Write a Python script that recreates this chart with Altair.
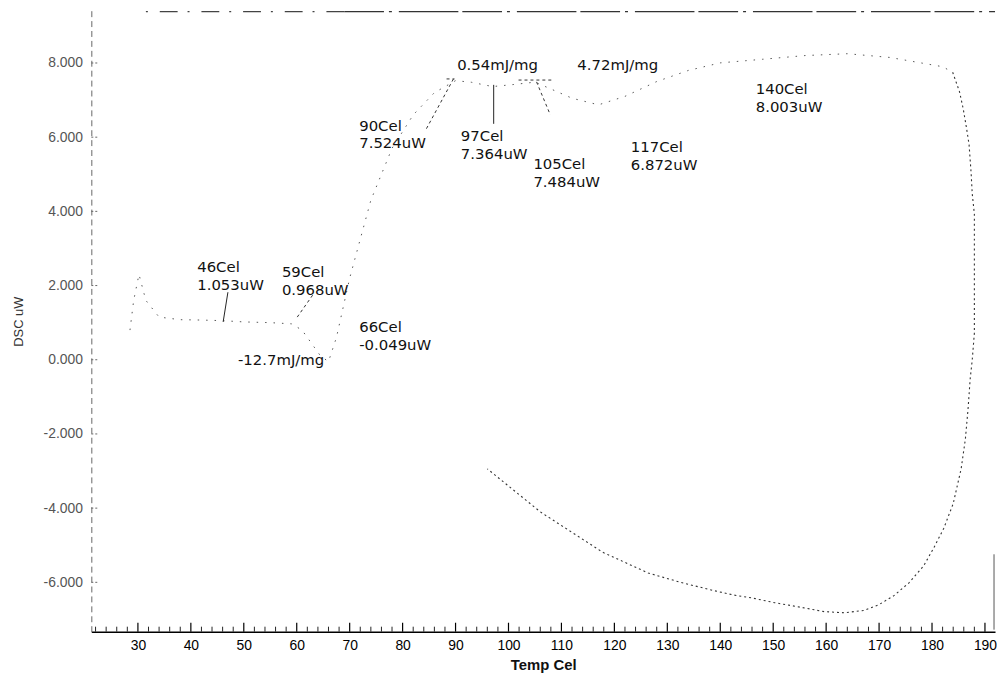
import altair as alt
import pandas as pd

# ---- DSC curve (heating segment) ----
heat_T = [28.5, 29.2, 30.2, 31.5, 34, 38, 42, 46, 50, 55, 59, 61, 63, 64.5, 66, 67.5, 70, 74, 78, 82, 86,
          90, 93, 97, 101, 105, 108, 112, 117, 122, 128, 134, 140, 148, 156, 164, 172, 178, 182, 183.9]
heat_U = [0.8, 1.6, 2.3, 1.6, 1.15, 1.08, 1.07, 1.053, 1.02, 1.0, 0.968, 0.8, 0.4, 0.1, -0.049, 0.6, 2.2, 4.3,
          5.7, 6.6, 7.2, 7.524, 7.48, 7.364, 7.42, 7.484, 7.3, 7.05, 6.872, 7.1, 7.5, 7.8, 8.003, 8.1, 8.2, 8.25,
          8.15, 8.0, 7.9, 7.75]

# ---- DSC curve (cooling segment) ----
cool_T = [183.9, 185.2, 185.9, 186.5, 187.0, 187.2, 187.4, 187.6, 188.0, 188.0, 188.0, 188.0, 188.0, 187.6,
          187.2, 186.8, 186.3, 185.5, 184.0, 182.2, 180.3, 178.4, 175.6, 172.8, 170.0, 167.1, 163.4, 159.6,
          155.5, 150.3, 145.9, 142.4, 139.0, 133.0, 126.4, 117.8, 106.0, 96.0]
cool_U = [7.75, 7.22, 6.76, 6.26, 5.80, 5.40, 5.00, 4.47, 3.93, 3.21, 2.33, 1.60, 0.72, 0.0, -0.53, -1.34,
          -2.14, -2.94, -3.88, -4.55, -5.08, -5.56, -6.02, -6.36, -6.60, -6.76, -6.82, -6.79, -6.68, -6.55,
          -6.42, -6.34, -6.23, -6.02, -5.75, -5.19, -4.1, -2.94]

# ---- annotations ----
ann_T = [41.2, 57.2, 71.8, 48.9, 71.8, 90.3, 113.0, 91.0, 104.7, 123.1, 146.7]
ann_U = [2.68, 2.54, 1.07, 0.18, 6.50, 8.12, 8.12, 6.21, 5.46, 5.91, 7.49]
ann_text = ["46Cel\n1.053uW", "59Cel\n0.968uW", "66Cel\n-0.049uW", "-12.7mJ/mg", "90Cel\n7.524uW",
            "0.54mJ/mg", "4.72mJ/mg", "97Cel\n7.364uW", "105Cel\n7.484uW", "117Cel\n6.872uW",
            "140Cel\n8.003uW"]

# leader lines
lead_T1 = [47.0, 97.2]
lead_U1 = [1.82, 6.36]
lead_T2 = [46.1, 97.2]
lead_U2 = [1.02, 7.41]
dlead_T1 = [63.0, 84.5, 88.3, 105.3, 101.9]
dlead_U1 = [1.74, 6.23, 7.57, 7.49, 7.54]
dlead_T2 = [60.1, 89.6, 89.8, 107.9, 108.3]
dlead_U2 = [1.15, 7.57, 7.57, 6.6, 7.54]

x_major = list(range(30, 191, 10))
x_minor = [t for t in range(22, 192, 2) if t % 10 != 0]
y_ticks = [-6, -4, -2, 0, 2, 4, 6, 8]

X_DOM = [21.2, 191.9]
Y_DOM = [-7.33, 9.41]
W, H = 911, 626

xs = alt.Scale(domain=X_DOM, nice=False, zero=False)
ys = alt.Scale(domain=Y_DOM, nice=False, zero=False)

heat = pd.DataFrame({"T": heat_T, "U": heat_U})
cool = pd.DataFrame({"T": cool_T, "U": cool_U})
ann = pd.DataFrame({"T": ann_T, "U": ann_U, "label": ann_text})
lead = pd.DataFrame({"T": lead_T1, "U": lead_U1, "T2": lead_T2, "U2": lead_U2})
dlead = pd.DataFrame({"T": dlead_T1, "U": dlead_U1, "T2": dlead_T2, "U2": dlead_U2})
xmaj_df = pd.DataFrame({"T": x_major})
xmin_df = pd.DataFrame({"T": x_minor})
ytk_df = pd.DataFrame({"U": y_ticks})

x_axis = alt.Axis(values=x_major, format="d", labelFont="Liberation Sans", labelFontSize=14,
                  labelColor="#000", ticks=False, domainColor="#000", domainWidth=1.5,
                  labelPadding=7, title="Temp Cel", titleFont="Liberation Sans", titleFontSize=15,
                  titleFontWeight="bold", titleColor="#111", titlePadding=5, grid=False)
y_axis = alt.Axis(values=y_ticks,
                  labelExpr="datum.value < 0 ? '-' + format(-datum.value, '.3f') : format(datum.value, '.3f')",
                  labelFont="Liberation Sans", labelFontSize=14, labelColor="#555", ticks=False,
                  labelPadding=9, domainDash=[6, 4], domainColor="#666", title="DSC uW",
                  titleFont="Liberation Sans", titleFontSize=13, titleFontWeight="normal",
                  titleColor="#333", titlePadding=18, grid=False)

X = alt.X("T:Q", scale=xs, axis=x_axis)
Y = alt.Y("U:Q", scale=ys, axis=y_axis)

heat_line = alt.Chart(heat).mark_line(strokeDash=[1.5, 7], strokeWidth=1, color="#555").encode(
    x=X, y=Y, order=alt.Order("idx:Q"),
).transform_window(idx="row_number()")

cool_line = alt.Chart(cool).mark_line(strokeDash=[2, 3], strokeWidth=1.1, color="#333").encode(
    x=X, y=Y, order=alt.Order("idx:Q"),
).transform_window(idx="row_number()")

lead_solid = alt.Chart(lead).mark_rule(color="#222", strokeWidth=1).encode(
    x=X, y=Y, x2="T2:Q", y2="U2:Q")
lead_dash = alt.Chart(dlead).mark_rule(color="#333", strokeWidth=1, strokeDash=[3, 3]).encode(
    x=X, y=Y, x2="T2:Q", y2="U2:Q")

texts = alt.Chart(ann).mark_text(align="left", baseline="top", lineBreak="\n", font="DejaVu Sans",
                                 fontSize=15, lineHeight=18, color="#111").encode(
    x=X, y=Y, text="label:N")

xmaj = alt.Chart(xmaj_df).mark_rule(color="#000", strokeWidth=1.2).encode(
    x=X, y=alt.value(H), y2=alt.value(H - 9))
xmin = alt.Chart(xmin_df).mark_rule(color="#222", strokeWidth=1).encode(
    x=X, y=alt.value(H), y2=alt.value(H - 5))
ytk = alt.Chart(ytk_df).mark_rule(color="#666", strokeWidth=1, strokeDash=[2, 2]).encode(
    y=Y, x=alt.value(0), x2=alt.value(7))

top_line = alt.Chart(pd.DataFrame({"k": [0]})).mark_rule(color="#333", strokeWidth=1.3,
                                                          strokeDash=[40, 5, 3, 7, 60, 4]).encode(
    x=alt.value(255), x2=alt.value(W), y=alt.value(1))
top_dots = alt.Chart(pd.DataFrame({"k": [0]})).mark_rule(color="#444", strokeWidth=1.3,
                                                          strokeDash=[2, 12, 18, 10]).encode(
    x=alt.value(55), x2=alt.value(255), y=alt.value(1))
right_line = alt.Chart(pd.DataFrame({"k": [0]})).mark_rule(color="#555", strokeWidth=1).encode(
    x=alt.value(W - 1), y=alt.value(548), y2=alt.value(H - 2))

chart = alt.layer(heat_line, cool_line, lead_solid, lead_dash, texts, xmaj, xmin, ytk,
                  top_line, top_dots, right_line).properties(
    width=W, height=H, autosize=alt.AutoSizeParams(type="none"),
    padding={"left": 84, "top": 0, "right": 2, "bottom": 42},
).configure_view(stroke=None)

chart.save("out.html", embed_options={"renderer": "svg", "actions": False})
